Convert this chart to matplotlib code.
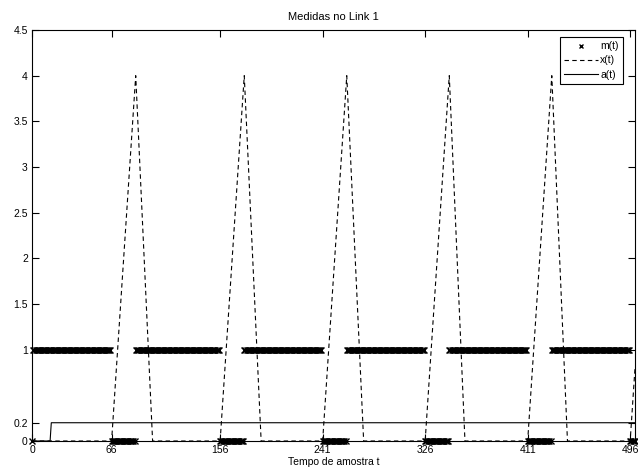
import numpy as np
import matplotlib
matplotlib.use("Agg")
import matplotlib.pyplot as plt

plt.rcParams['font.family'] = ['Liberation Sans', 'DejaVu Sans']

# ---- data ----
# m(t): measurement flags, given as runs (value, first t, last t)
m_run_values = [0, 1, 0, 1, 0, 1, 0, 1, 0, 1, 0, 1, 0]
m_run_starts = [0, 1, 66, 86, 156, 176, 241, 261, 326, 346, 411, 431, 496]
m_run_ends   = [0, 65, 85, 155, 175, 240, 260, 325, 345, 410, 430, 495, 500]

# x(t): vertices of the dashed curve
x_t = [0, 66, 86, 100, 156, 176, 190, 241, 261, 275, 326, 346, 359, 411, 431, 444, 496, 500]
x_v = [0, 0, 4, 0, 0, 4, 0, 0, 4, 0, 0, 4, 0, 0, 4, 0, 0, 0.8]

# a(t): vertices of the solid curve
a_t = [0, 15, 16, 500]
a_v = [0, 0, 0.2, 0.2]

xticks = [0, 66, 156, 241, 326, 411, 496]
yticks = [0, 0.2, 1, 1.5, 2, 2.5, 3, 3.5, 4, 4.5]

m_t = []
m_v = []
for v, s, e in zip(m_run_values, m_run_starts, m_run_ends):
    for t in range(s, e + 1):
        m_t.append(t)
        m_v.append(v)

fig = plt.figure(figsize=(6.38, 4.72), dpi=100)
ax = fig.add_axes([32/638, 1 - 441/472, (635 - 32)/638, (441 - 30)/472])

ax.plot(m_t, m_v, linestyle='none', marker='x', color='black', markersize=4.5,
        markeredgewidth=1.0, label='m(t)', clip_on=False, zorder=3)
ax.plot(x_t, x_v, linestyle=(0, (4, 3)), color='black', linewidth=0.8, label='x(t)')
ax.plot(a_t, a_v, linestyle='-', color='black', linewidth=0.8, label='a(t)')

ax.set_xlim(0, 500)
ax.set_ylim(0, 4.5)
ax.set_xticks(xticks)
ax.set_xticklabels([str(v) for v in xticks])
ax.set_yticks(yticks)
ax.set_yticklabels([f"{v:g}" for v in yticks])
ax.tick_params(direction='in', top=True, right=True, length=5, width=0.8,
               labelsize=7.5, pad=3)
for s in ax.spines.values():
    s.set_linewidth(0.8)

ax.set_title('Medidas no Link 1', fontsize=8, pad=7)
ax.set_xlabel('Tempo de amostra t', fontsize=7.5, labelpad=1)

leg = ax.legend(loc='upper right', bbox_to_anchor=(623/638, 1 - 37/472),
                bbox_transform=fig.transFigure,
                fontsize=7.5, frameon=True, fancybox=False,
                edgecolor='black', framealpha=1, handlelength=3.3, handletextpad=0.2,
                borderpad=0.4, labelspacing=0.4, markerscale=0.7, numpoints=1,
                borderaxespad=0)
leg.get_frame().set_linewidth(0.8)

fig.savefig('out.png', dpi=100)
